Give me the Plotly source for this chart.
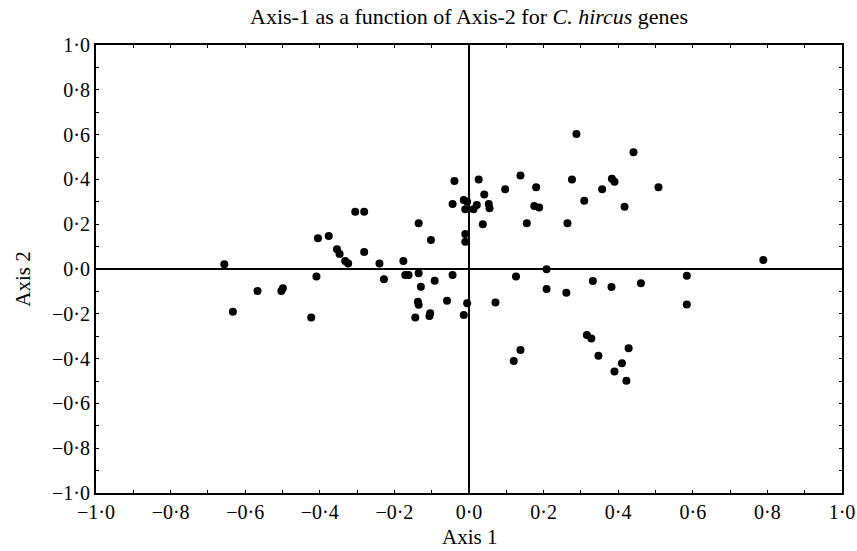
import plotly.graph_objects as go

axis1 = [-0.656, -0.633, -0.567, -0.503, -0.499, -0.423, -0.409, -0.405, -0.376, -0.305,
         -0.281, -0.354, -0.347, -0.332, -0.324, -0.281, -0.240, -0.228, -0.176, -0.171,
         -0.162, -0.135, -0.135, -0.129, -0.137, -0.135, -0.144, -0.104, -0.106, -0.102,
         -0.092, -0.059, -0.044, -0.044, -0.039, -0.014, -0.005, -0.010, 0.012, 0.026,
         -0.010, -0.010, -0.005, -0.014,
         0.097, 0.041, 0.021, 0.053, 0.055, 0.037, 0.288, 0.441, 0.138, 0.180,
         0.276, 0.383, 0.390, 0.357, 0.508, 0.309, 0.417, 0.175, 0.188, 0.155,
         0.264, 0.208, 0.126, 0.208, 0.261, 0.332, 0.382, 0.461, 0.584, 0.584,
         0.071, 0.316, 0.328, 0.138, 0.120, 0.347, 0.428, 0.410, 0.390, 0.422, 0.789]
axis2 = [0.021, -0.191, -0.098, -0.098, -0.086, -0.216, -0.034, 0.137, 0.147, 0.256,
         0.256, 0.088, 0.067, 0.036, 0.024, 0.076, 0.025, -0.046, 0.036, -0.027,
         -0.027, 0.204, -0.019, -0.079, -0.146, -0.160, -0.216, -0.198, -0.210, 0.129,
         -0.052, -0.142, -0.027, 0.290, 0.393, 0.308, 0.300, 0.267, 0.267, 0.400,
         0.156, 0.122, -0.153, -0.205,
         0.356, 0.333, 0.286, 0.290, 0.271, 0.200, 0.603, 0.521, 0.417, 0.365,
         0.400, 0.403, 0.390, 0.356, 0.365, 0.305, 0.278, 0.281, 0.274, 0.204,
         0.204, -0.001, -0.034, -0.089, -0.106, -0.054, -0.080, -0.064, -0.030, -0.158,
         -0.150, -0.295, -0.310, -0.362, -0.411, -0.387, -0.354, -0.421, -0.458, -0.499, 0.040]

tick_vals = [-1.0, -0.8, -0.6, -0.4, -0.2, 0.0, 0.2, 0.4, 0.6, 0.8, 1.0]
tick_text = ["\u22121\u00b70", "\u22120\u00b78", "\u22120\u00b76", "\u22120\u00b74", "\u22120\u00b72",
             "0\u00b70", "0\u00b72", "0\u00b74", "0\u00b76", "0\u00b78", "1\u00b70"]

FONT = "Liberation Serif"

fig = go.Figure()
fig.add_trace(go.Scatter(
    x=axis1, y=axis2, mode="markers",
    marker=dict(color="black", size=8, symbol="circle", line=dict(width=0)),
    showlegend=False, hoverinfo="x+y"))

axis_common = dict(
    range=[-1, 1], tickmode="array", tickvals=tick_vals, ticktext=tick_text,
    showgrid=False, zeroline=True, zerolinecolor="black", zerolinewidth=1.5,
    showline=True, linecolor="black", linewidth=2, mirror="ticks",
    ticks="inside", ticklen=3, tickwidth=1, tickcolor="black",
    minor=dict(dtick=0.1, ticks="inside", ticklen=3, tickcolor="black", tickwidth=1, showgrid=False),
    tickfont=dict(family=FONT, size=20, color="black"),
    automargin=False, ticklabeloverflow="allow",
)

fig.update_xaxes(**axis_common)
fig.update_yaxes(**axis_common)

fig.update_layout(
    width=857, height=551,
    margin=dict(l=96, r=15, t=45, b=58),
    paper_bgcolor="white", plot_bgcolor="white",
    title=dict(text="Axis-1 as a function of Axis-2 for <i>C. hircus</i> genes",
               x=0.5, xref="paper", xanchor="center",
               y=1 - 16 / 551, yref="container", yanchor="middle",
               font=dict(family=FONT, size=22, color="black")),
    annotations=[
        dict(text="Axis 1", xref="paper", yref="paper", x=0.5, y=-0.1295,
             xanchor="center", yanchor="bottom", showarrow=False,
             font=dict(family=FONT, size=21, color="black")),
        dict(text="Axis 2", xref="paper", yref="paper", x=-0.098, y=0.478,
             xanchor="center", yanchor="middle", showarrow=False, textangle=-90,
             font=dict(family=FONT, size=21, color="black")),
    ],
)

fig.write_html(
    "out.html",
    config={"displayModeBar": False},
    post_script="document.body.style.margin='0';document.body.style.overflow='hidden';",
)
